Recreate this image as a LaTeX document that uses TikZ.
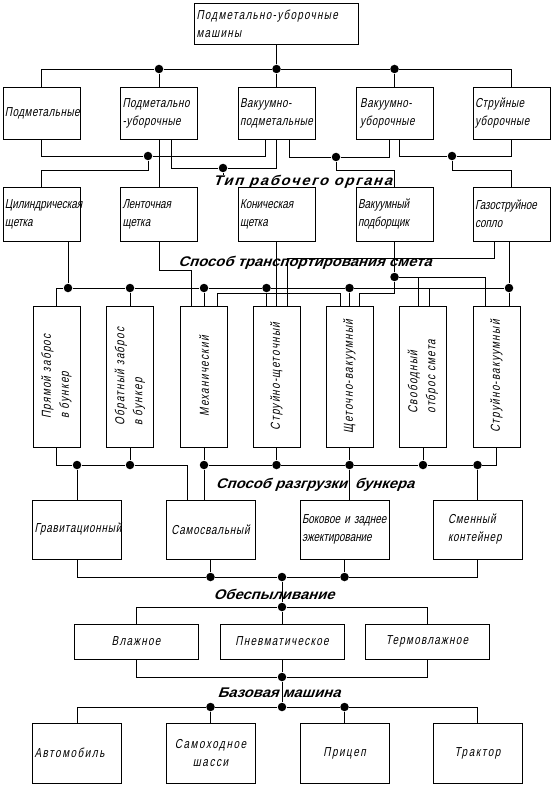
\documentclass[tikz,border=0pt]{standalone}
\usepackage{fontspec}
\newfontfamily\gost[FakeStretch=0.76,FakeSlant=0.2]{Liberation Sans}
\newfontfamily\lblfont[FakeStretch=1.06,FakeSlant=0.35]{Liberation Sans}
\newcommand\bxfont{\gost\fontsize{13}{18}\selectfont}
\newcommand\lblfnt{\lblfont\bfseries\fontsize{14}{16}\selectfont}
\usetikzlibrary{positioning}

\begin{document}
\begin{tikzpicture}[x=1pt,y=-1pt,line width=0.8pt,
  bx/.style={draw,align=left,inner xsep=2pt,inner ysep=2pt,font=\bxfont},
  topbx/.style={bx,text width=160pt,minimum height=41pt,font=\bxfont\addfontfeature{LetterSpace=10}},
  cls/.style={bx,text width=73pt,minimum height=52pt,font=\bxfont\addfontfeature{LetterSpace=4}},
  org/.style={bx,text width=73pt,minimum height=54pt},
  trn/.style={draw,rotate=90,align=left,minimum width=141pt,minimum height=47pt,inner sep=2pt,font=\bxfont\addfontfeature{LetterSpace=10}},
  unl/.style={bx,text width=85pt,minimum height=59pt,font=\bxfont\addfontfeature{LetterSpace=6}},
  dst/.style={bx,align=center,text width=120pt,minimum height=35pt,font=\bxfont\addfontfeature{LetterSpace=10}},
  bas/.style={bx,text width=85pt,minimum height=60pt,font=\bxfont\addfontfeature{LetterSpace=12}},
  lbl/.style={font=\lblfnt,inner sep=0pt},
  dot/.style={circle,fill,inner sep=0pt,minimum size=8.5pt}]
\useasboundingbox (0,0) rectangle (553,786);

% classes of machines
\node[topbx] (mach) at (276.5,23.5) {Подметально-уборочные\\машины};
\node[cls] (podm) at (41.5,113) {Подметальные};
\node[cls] (pu) at (159,113) {Подметально\\-уборочные};
\node[cls] (vp) at (276.5,113) {Вакуумно-\\подметальные};
\node[cls] (vu) at (394.5,113) {\,Вакуумно-\\\,уборочные};
\node[cls] (su) at (511.5,113) {Струйные\\уборочные};

% working organ
\node[org] (cyl) at (41.5,214) {Цилиндрическая\\щетка};
\node[org] (lent) at (159,214) {Ленточная\\щетка};
\node[org] (kon) at (276.5,214) {Коническая\\щетка};
\node[org] (vpod) at (394.5,214) {Вакуумный\\подборщик};
\node[org] (gaz) at (511.5,214) {Газоструйное\\сопло};

% transport of dirt
\node[trn] (pz) at (56.5,376.5) {Прямой заброс\\в бункер};
\node[trn] (oz) at (130,376.5) {Обратный заброс\\в бункер};
\node[trn] (meh) at (204,376.5) {Механический};
\node[trn] (ssch) at (276.5,376.5) {Струйно-щеточный};
\node[trn] (schv) at (349.5,376.5) {Щеточно-вакуумный};
\node[trn] (svo) at (423,376.5) {Свободный\\отброс смета};
\node[trn] (sv) at (496.5,376.5) {Струйно-вакуумный};

% unloading
\node[unl] (grav) at (77,529.5) {Гравитационный};
\node[unl,align=center] (samo) at (210.5,529.5) {Самосвальный};
\node[unl,font=\bxfont] (bok) at (344.5,529.5) {Боковое и заднее\\эжектирование};
\node[unl] (smen) at (477.5,529.5) {\quad Сменный\\\quad контейнер};

% dust
\node[dst] (vl) at (136,641.5) {Влажное};
\node[dst] (pn) at (282,641.5) {Пневматическое};
\node[dst] (term) at (427,641.5) {Термовлажное};

% base machine
\node[bas] (avto) at (77,753) {Автомобиль};
\node[bas,align=center] (shas) at (210.5,753) {Самоходное\\шасси};
\node[bas,align=center] (pric) at (344.5,753) {Прицеп};
\node[bas,align=center] (trak) at (477.5,753) {Трактор};

% labels
\node[lbl,font=\lblfnt\addfontfeature{LetterSpace=12}] (torg) at (302.5,182) {Тип рабочего органа};
\node[lbl] (tsm) at (305,263) {Способ транспортирования смета};
\node[lbl] (razg) at (315,485) {Способ разгрузки\hspace{8pt}бункера};
\node[lbl] (obes) at (274,594) {Обеспыливание};
\node[lbl] (baz) at (279,693) {Базовая машина};

% junctions
\node[dot] (k2) at (159,69) {};
\node[dot] (k3) at (276.5,69) {};
\node[dot] (k4) at (394.5,69) {};
\node[dot] (c1) at (148,156) {};
\node[dot] (c2) at (223,168) {};
\node[dot] (c3) at (336,157) {};
\node[dot] (c4) at (452,156) {};
\node[dot] (e1) at (68,288) {};
\node[dot] (e2) at (130,288) {};
\node[dot] (e3) at (204,288) {};
\node[dot] (e4) at (266.5,288) {};
\node[dot] (e5) at (349.5,288) {};
\node[dot] (e6) at (509,288) {};
\node[dot] (f1) at (394.5,277) {};
\node[dot] (g1) at (77,465) {};
\node[dot] (g2) at (130,465) {};
\node[dot] (h1) at (204,465) {};
\node[dot] (h2) at (276.5,465) {};
\node[dot] (h3) at (349.5,465) {};
\node[dot] (h4) at (423,465) {};
\node[dot] (h5) at (477.5,465) {};
\node[dot] (i1) at (210.5,577) {};
\node[dot] (i2) at (282,577) {};
\node[dot] (i3) at (344.5,577) {};
\node[dot] (j1) at (282,607) {};
\node[dot] (j2) at (282,677) {};
\node[dot] (j3) at (282,707) {};
\node[dot] (l1) at (210.5,707) {};
\node[dot] (l3) at (344.5,707) {};

% machines -> classes
\draw (mach) -- (k3);
\draw (podm.north) |- (k2) -- (k3) -- (k4) -| (su.north);
\draw (k2) -- (pu);
\draw (k3) -- (vp);
\draw (k4) -- (vu);

% classes -> working organ
\draw (podm.south) |- (c1) -| ([xshift=-11.5pt]vp.south);
\draw (c1) -- ++(0,14) -| (cyl.north);
\draw (pu.south) -- (lent.north);
\draw ([xshift=12pt]pu.south) |- (c2) -| (vp.south);
\draw (c2) -- (c2 |- torg.north);
\draw ([xshift=12.5pt]vp.south) |- (c3) -| ([xshift=-5.5pt]vu.south);
\draw (c3) -- ++(0,13) -| (vpod.north);
\draw ([xshift=4.5pt]vu.south) |- (c4) -| (su.south);
\draw (c4) -- ++(0,14) -| (gaz.north);

% working organ -> transport
\draw ([xshift=26.5pt]cyl.south) -- (e1);
\draw (pz.east) |- (e1) -- (e2) -- (e3) -- (e4) -- (e5) -- (e6);
\draw (e2) -- (oz.east);
\draw (e3) -- (meh.east);
\draw (e4) -- ([xshift=-10pt]ssch.east);
\draw (e5) -- (schv.east);
\draw ([xshift=-2.5pt]gaz.south) -- (e6) -- ([xshift=12.5pt]sv.east);
\draw ([xshift=6pt]svo.east) |- (e6);
\draw (lent.south) -- ++(0,29) -| ([xshift=-13pt]meh.east);
\draw (kon.south) -- (ssch.east);
\draw ([xshift=-17.5pt]gaz.south) -- ++(0,17) -| ([xshift=10.5pt]ssch.east);
\draw (vpod.south) -- (f1);
\draw (f1) -| ([xshift=-11.5pt]sv.east);
\draw ([xshift=-5pt]svo.east) |- (f1);
\draw (f1) -- ++(0,16) -| ([xshift=9.5pt]schv.east);
\draw ([xshift=13pt]meh.east) -- ++(0,-12) -| ([xshift=-9.5pt]schv.east);

% transport -> unloading
\draw (pz.west) |- (g1) -- (g2) -| ([xshift=-23.5pt]samo.north);
\draw (g1) -- (grav.north);
\draw (oz.west) -- (g2);
\draw (meh.west) -- (h1) -- (h2) -- (h3) -- (h4) -- (h5) -| (sv.west);
\draw (h1) -- ([xshift=-6.5pt]samo.north);
\draw (ssch.west) -- (h2);
\draw (schv.west) -- (h3) -- ([xshift=5pt]bok.north);
\draw (svo.west) -- (h4);
\draw (h5) -- (smen.north);

% unloading -> dust
\draw (grav.south) |- (i1) -- (i2) -- (i3) -| (smen.south);
\draw (samo.south) -- (i1);
\draw (bok.south) -- (i3);
\draw (i2) -- (j1);
\draw (vl.north) |- (j1) -| (term.north);
\draw (j1) -- (pn.north);

% dust -> base machine
\draw (vl.south) |- (j2) -| (term.south);
\draw (pn.south) -- (j2) -- (j3);
\draw (avto.north) |- (l1) -- (j3) -- (l3) -| (trak.north);
\draw (l1) -- (shas.north);
\draw (l3) -- (pric.north);
\end{tikzpicture}
\end{document}
